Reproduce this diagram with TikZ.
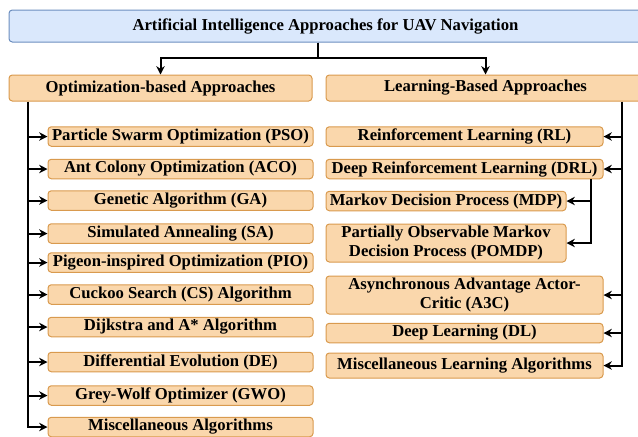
\documentclass[tikz,border=0pt]{standalone}
\usepackage{fontspec}
\setmainfont{Liberation Serif}
\usetikzlibrary{arrows.meta}

\definecolor{topfill}{HTML}{DAE8FC}
\definecolor{topline}{HTML}{6C8EBF}
\definecolor{boxfill}{HTML}{FAD7AC}
\definecolor{boxline}{HTML}{D99A4E}

\begin{document}
\begin{tikzpicture}[x=0.6pt,y=-0.6pt,
    every node/.style={font=\bfseries\fontsize{10}{11.5}\selectfont, inner sep=0pt, align=center},
    topbox/.style={draw=topline, fill=topfill, rounded corners=2pt, line width=0.6pt,
        minimum width=379.8pt, minimum height=19.2pt},
    catbox/.style={draw=boxline, fill=boxfill, rounded corners=2pt, line width=0.6pt,
        minimum height=15.6pt},
    itembox/.style={draw=boxline, fill=boxfill, rounded corners=2pt, line width=0.6pt,
        minimum height=11.7pt},
    link/.style={line width=1.2pt, -{Stealth[length=5pt,width=5pt]}}]
    \useasboundingbox (0,0) rectangle (638,436);

    % root and the two families
    \node [topbox] (root) at (325.5,26) {Artificial Intelligence Approaches for UAV Navigation};
    \node [catbox, minimum width=181.8pt] (opt) at (160.5,88) {Optimization-based Approaches};
    \node [catbox, minimum width=191.4pt] (learn) at (485.5,88) {Learning-Based Approaches};

    % optimization methods
    \node [itembox, minimum width=159pt] (pso) at (180.5,136.5) {Particle Swarm Optimization (PSO)};
    \node [itembox, minimum width=159pt] (aco) at (180.5,169) {Ant Colony Optimization (ACO)};
    \node [itembox, minimum width=159pt] (ga) at (180.5,200.5) {Genetic Algorithm (GA)};
    \node [itembox, minimum width=159pt] (sa) at (180.5,233.5) {Simulated Annealing (SA)};
    \node [itembox, minimum width=159pt] (pio) at (180.5,262.5) {Pigeon-inspired Optimization (PIO)};
    \node [itembox, minimum width=159pt] (cs) at (180.5,294.5) {Cuckoo Search (CS) Algorithm};
    \node [itembox, minimum width=159pt] (dij) at (180.5,327) {Dijkstra and A* Algorithm};
    \node [itembox, minimum width=159pt] (de) at (180.5,362) {Differential Evolution (DE)};
    \node [itembox, minimum width=159pt] (gwo) at (180.5,395.5) {Grey-Wolf Optimizer (GWO)};
    \node [itembox, minimum width=159pt] (mopt) at (180.5,427) {Miscellaneous Algorithms};

    % learning methods
    \node [itembox, minimum width=166.2pt] (rl) at (464.5,136.5) {Reinforcement Learning (RL)};
    \node [itembox, minimum width=166.2pt] (drl) at (464.5,169) {Deep Reinforcement Learning (DRL)};
    \node [itembox, minimum width=144pt] (mdp) at (446,201) {Markov Decision Process (MDP)};
    \node [itembox, minimum width=144pt, minimum height=22.8pt] (pomdp) at (446,243)
        {Partially Observable Markov\\Decision Process (POMDP)};
    \node [itembox, minimum width=166.2pt, minimum height=22.8pt] (a3c) at (464.5,295)
        {Asynchronous Advantage Actor-\\Critic (A3C)};
    \node [itembox, minimum width=166.2pt] (dl) at (464.5,333) {Deep Learning (DL)};
    \node [itembox, minimum width=166.2pt, minimum height=15pt] (mlearn) at (464.5,365.5)
        {Miscellaneous Learning Algorithms};

    % bus lines
    \coordinate (stem) at (318,0);
    \coordinate (lbus) at (28,0);
    \coordinate (rbus) at (622,0);
    \coordinate (dbus) at (591,0);

    \draw [link] (root.south -| stem) -- ++(0,15) -| (opt.north);
    \draw [link] (root.south -| stem) -- ++(0,15) -| (learn.north);

    \draw [link] (opt.south -| lbus) |- (mopt.west);
    \foreach \n in {pso,aco,ga,sa,pio,cs,dij,de,gwo}
        \draw [link] (\n.west -| lbus) -- (\n.west);

    \draw [link] (learn.south -| rbus) |- (mlearn.east);
    \foreach \n in {rl,drl,a3c,dl}
        \draw [link] (\n.east -| rbus) -- (\n.east);

    \draw [link] (drl.south -| dbus) |- (pomdp.east);
    \draw [link] (mdp.east -| dbus) -- (mdp.east);
\end{tikzpicture}
\end{document}
